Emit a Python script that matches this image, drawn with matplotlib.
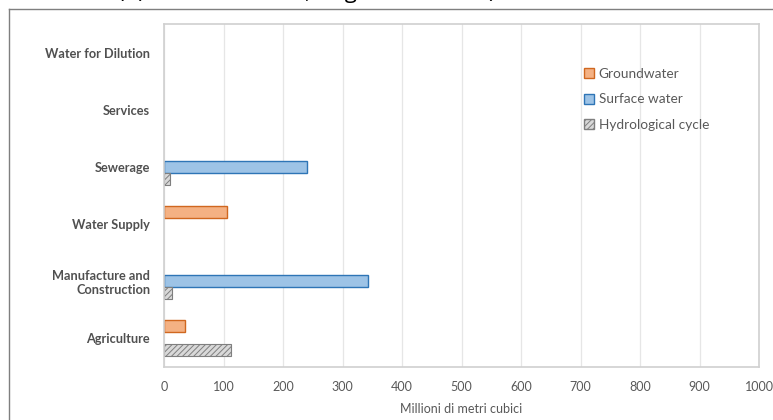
import matplotlib.pyplot as plt
import numpy as np
from matplotlib.lines import Line2D

plt.rcParams['font.family'] = ['Lato', 'DejaVu Sans']
plt.rcParams['hatch.linewidth'] = 0.7

# categories listed top to bottom
sectors = ['Water for Dilution', 'Services', 'Sewerage', 'Water Supply',
           'Manufacture and\nConstruction', 'Agriculture']
groundwater = [0, 0, 0, 105, 0, 36]
surface_water = [0, 0, 240, 0, 343, 0]
hydro_cycle = [0, 0, 10, 0, 13, 112]
xticks = list(range(0, 1001, 100))

fig = plt.figure(figsize=(7.73, 4.2), dpi=100)
ax = fig.add_axes([0.2122, 0.1262, 0.7697, 0.8167])

y = np.arange(len(sectors))
h = 0.21
txt = '#595959'


def edges(vals, lw):
    # no outline for empty bars
    return [lw if v > 0 else 0 for v in vals]


ax.barh(y - h, groundwater, height=h, color='#F4B183', edgecolor='#D0671F',
        linewidth=edges(groundwater, 1.0), label='Groundwater')
ax.barh(y, surface_water, height=h, color='#9DC3E6', edgecolor='#2E75B6',
        linewidth=edges(surface_water, 1.0), label='Surface water')
ax.barh(y + h, hydro_cycle, height=h, color='#D9D9D9', edgecolor='#7F7F7F',
        hatch='//////', linewidth=edges(hydro_cycle, 0.8),
        label='Hydrological cycle')

ax.set_xlim(0, 1000)
ax.set_ylim(len(sectors) - 0.5, -0.5)
ax.set_xticks(xticks)
ax.set_yticks(y)
ax.set_yticklabels(sectors, fontweight='bold', color='#505050', fontsize=9.2,
                   ha='right', multialignment='right')
ax.tick_params(axis='x', length=0, labelsize=9, labelcolor=txt, pad=10)
ax.tick_params(axis='y', length=0, pad=10)
ax.xaxis.grid(True, color='#E6E6E6', linewidth=0.9)
ax.set_axisbelow(True)
for s in ax.spines.values():
    s.set_color('#D0D0D0')
    s.set_linewidth(1.2)

ax.set_xlabel('Millioni di metri cubici', color=txt, fontsize=9, labelpad=7)

leg = fig.legend(loc='upper left', bbox_to_anchor=(0.740, 0.868),
                 frameon=False, fontsize=9.8, labelcolor=txt,
                 handlelength=0.75, handleheight=0.75, handletextpad=0.3,
                 labelspacing=1.0)
for hd in leg.legend_handles:
    hd.set_linewidth(1.0)

# outer frame and clipped heading
fig.add_artist(Line2D([8.5 / 773, 8.5 / 773], [0, 411.5 / 420],
                      color='#7F7F7F', linewidth=1.0))
fig.add_artist(Line2D([8.5 / 773, 1], [411.5 / 420, 411.5 / 420],
                      color='#7F7F7F', linewidth=1.0))
fig.text(118 / 773, 1 + 2.4 / 420, '(b) Water demand, origin of sources)',
         fontsize=16, family='Open Sans', va='baseline', ha='left',
         color='black')

fig.savefig('out.png', dpi=100)
